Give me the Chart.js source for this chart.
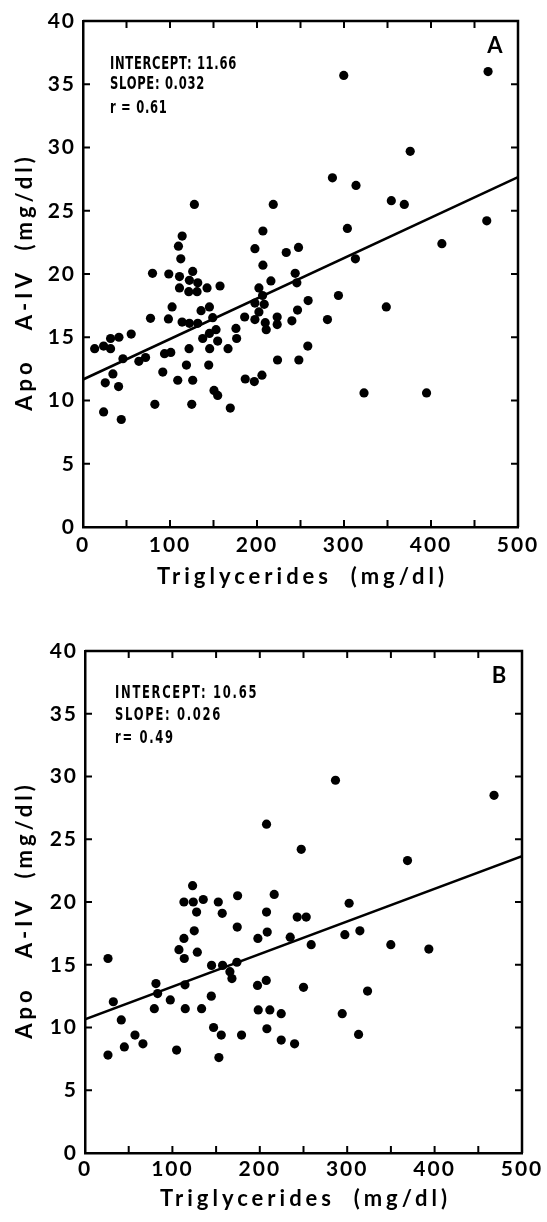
<!DOCTYPE html>
<html>
<head>
<meta charset="utf-8">
<script src="https://cdn.jsdelivr.net/npm/chart.js@4.4.1/dist/chart.umd.min.js"></script>
<style>
html,body{margin:0;padding:0;background:#fff;}
#wrap{position:relative;width:547px;height:1222px;overflow:hidden;background:#fff;}
canvas{position:absolute;left:0;}
#cA{top:0;}
#cB{top:610px;}
</style>
</head>
<body>
<div id="wrap">
<canvas id="cA" width="547" height="610"></canvas>
<canvas id="cB" width="547" height="612"></canvas>
</div>
<script>
// ---------- DATA ----------
const xTickLabels = ['0', '100', '200', '300', '400', '500'];
const yTickLabels = ['0', '5', '10', '15', '20', '25', '30', '35', '40'];
const xAxisTitle = 'Triglycerides  (mg/dl)';
const yAxisTitle = 'Apo   A-IV  (mg/dl)';

// Panel A
const triglyceridesA = [128, 218.7, 114, 109.7, 112.4, 206.8, 197.6, 233.6, 247.7, 206.8,
  79.9, 98.6, 110.9, 126.1, 122.3, 131.9, 110.9, 121.6, 131.1, 142.6,
  157.5, 216, 243.9, 245.8, 202.2, 206.4, 197.6, 208.3, 202.2, 197.6,
  185.8, 223.2, 223.2, 240.1, 246.6, 258.8, 281, 209.5, 210.6, 102.4,
  135.7, 145.3, 77.6, 98.2, 113.9, 122.3, 131.9, 149.1, 152.9, 145.3,
  137.6, 154.8, 175.8, 176.6, 166.7, 145.6, 121.9, 55.4, 41.3, 31.7,
  13.4, 23.7, 31.7, 45.9, 64.2, 71.9, 93.7, 100.9, 34.4, 25.6,
  40.9, 91.7, 118.9, 144.5, 108.9, 126.1, 150.6, 154.8, 82.6, 125,
  169.3, 23.7, 44, 186.5, 196.9, 205.7, 223.6, 248.1, 258.4, 286.7,
  299.7, 465.6, 376.1, 313.8, 354.4, 369.3, 303.9, 464.1, 412.5, 313.1,
  293.6, 348.6, 323, 394.9];
const apoA4A = [25.5, 25.5, 23.0, 22.2, 21.2, 23.4, 22.0, 21.7, 22.1, 20.7,
  20.05, 20.0, 19.8, 20.2, 19.5, 19.3, 18.9, 18.6, 18.6, 18.9,
  19.05, 19.45, 20.05, 19.3, 18.9, 18.3, 17.7, 17.6, 17.0, 16.4,
  16.6, 16.6, 16.0, 16.3, 17.15, 17.9, 16.4, 16.15, 15.6, 17.4,
  17.1, 17.4, 16.5, 16.45, 16.2, 16.1, 16.1, 16.55, 15.6, 15.3,
  14.9, 14.7, 15.7, 14.9, 14.1, 14.1, 14.1, 15.25, 15.0, 14.9,
  14.1, 14.3, 14.1, 13.3, 13.1, 13.4, 13.7, 13.8, 12.1, 11.4,
  11.1, 12.25, 12.8, 12.8, 11.6, 11.6, 10.8, 10.4, 9.7, 9.7,
  9.4, 9.1, 8.5, 11.7, 11.5, 12.0, 13.2, 13.2, 14.3, 27.6,
  35.7, 36.0, 29.7, 27.0, 25.8, 25.5, 23.6, 24.2, 22.4, 21.2,
  18.3, 17.4, 10.6, 10.6];
const fitA = [11.66, 0.032];      // intercept, slope
const statsA = ['INTERCEPT: 11.66', 'SLOPE: 0.032', 'r = 0.61'];

// Panel B
const triglyceridesB = [247.4, 123.1, 113.2, 123.9, 135.3, 152.5, 174.6, 216.5, 127.7, 157,
  207.7, 242.8, 253.1, 174.2, 125, 113.2, 197.8, 208.5, 234.8, 258.8,
  107.5, 128.5, 113.6, 26.3, 144.8, 157.4, 173.8, 165.8, 168.1, 81.2,
  114.4, 207.4, 197.4, 250, 32.4, 83.1, 97.6, 144.5, 79.3, 114.7,
  133.4, 198.2, 211.5, 224.5, 294.3, 41.5, 147.1, 155.9, 179.1, 208.1,
  224.5, 239.8, 57.2, 66.3, 45, 26.3, 104.8, 153.2, 297.3, 286.6,
  468, 207.7, 369, 302.2, 314.5, 349.9, 393.4, 323.3, 313];
const apoA4B = [24.2, 21.3, 20.0, 20.0, 20.2, 20.0, 20.5, 20.6, 19.2, 19.1,
  19.2, 18.8, 18.8, 18.0, 17.7, 17.1, 17.1, 17.6, 17.2, 16.6,
  16.2, 16.0, 15.5, 15.5, 14.95, 14.95, 15.2, 14.45, 13.9, 13.5,
  13.4, 13.75, 13.35, 13.2, 12.05, 12.7, 12.2, 12.5, 11.5, 11.5,
  11.5, 11.4, 11.4, 11.1, 11.1, 10.6, 10.0, 9.4, 9.4, 9.9,
  9.0, 8.7, 9.4, 8.7, 8.45, 7.8, 8.2, 7.6, 17.4, 29.7,
  28.5, 26.2, 23.3, 19.9, 17.7, 16.6, 16.25, 12.9, 9.45];
const fitB = [10.65, 0.026];
const statsB = ['INTERCEPT: 10.65', 'SLOPE: 0.026', 'r= 0.49'];

// ---------- RENDERING ----------
const X_MIN = 0, X_MAX = 500, Y_MIN = 0, Y_MAX = 40;
const tickFont = {family: 'Lato, "DejaVu Sans", sans-serif', size: 21, weight: 'bold'};

const decorPlugin = {
  id: 'decor',
  beforeDraw(chart) {
    chart.ctx.letterSpacing = '2px';
  },
  afterDraw(chart, args, o) {
    const {ctx, chartArea: a, scales: {x, y}} = chart;
    ctx.save();
    ctx.strokeStyle = '#000';
    ctx.fillStyle = '#000';
    // top + right frame
    ctx.lineWidth = 2.5;
    ctx.beginPath();
    ctx.moveTo(a.left, a.top);
    ctx.lineTo(a.right, a.top);
    ctx.lineTo(a.right, a.bottom);
    ctx.stroke();
    // inward ticks on all sides
    ctx.lineWidth = 2;
    const L = 7;
    ctx.beginPath();
    x.ticks.forEach(t => {
      if (t.value <= x.min || t.value >= x.max) return;
      const p = x.getPixelForValue(t.value);
      ctx.moveTo(p, a.bottom); ctx.lineTo(p, a.bottom - L);
      ctx.moveTo(p, a.top); ctx.lineTo(p, a.top + L);
    });
    y.ticks.forEach(t => {
      if (t.value <= y.min || t.value >= y.max) return;
      const p = y.getPixelForValue(t.value);
      ctx.moveTo(a.left, p); ctx.lineTo(a.left + L, p);
      ctx.moveTo(a.right, p); ctx.lineTo(a.right - L, p);
    });
    ctx.stroke();

    // axis titles
    ctx.font = 'bold 22px Lato, "DejaVu Sans", sans-serif';
    ctx.letterSpacing = '4px';
    ctx.textAlign = 'center';
    ctx.textBaseline = 'middle';
    ctx.fillText(o.xTitle, (a.left + a.right) / 2 + 2, a.bottom + o.xTitleGap);
    ctx.save();
    ctx.translate(o.yTitleX, (a.top + a.bottom) / 2 + o.yTitleShift);
    ctx.rotate(-Math.PI / 2);
    ctx.fillText(o.yTitle, 0, 0);
    ctx.restore();

    // panel letter
    ctx.letterSpacing = '0px';
    ctx.font = 'bold 22px Lato, "DejaVu Sans", sans-serif';
    ctx.fillText(o.panel, a.right - 23, a.top + o.panelDy);

    // statistics text (bold condensed)
    ctx.textAlign = 'left';
    ctx.font = 'bold 17px "DejaVu Sans", sans-serif';
    ctx.letterSpacing = o.statSpacing;
    o.stats.forEach((s, i) => {
      ctx.save();
      ctx.translate(a.left + o.statDx, a.top + o.statDy[i]);
      ctx.scale(0.68, 1);
      ctx.fillText(s, 0, 0);
      ctx.restore();
    });
    ctx.restore();
  }
};

function makeChart(id, xs, ys, fit, stats, panel, geom) {
  const pts = xs.map((v, i) => ({x: v, y: ys[i]}));
  const line = [{x: X_MIN, y: fit[0] + fit[1] * X_MIN}, {x: X_MAX, y: fit[0] + fit[1] * X_MAX}];
  return new Chart(document.getElementById(id), {
    type: 'scatter',
    data: {
      datasets: [
        {type: 'line', data: line, borderColor: '#000', borderWidth: 2.5, pointRadius: 0, fill: false, order: 1},
        {type: 'scatter', data: pts, backgroundColor: '#000', borderWidth: 0, pointRadius: 4.6, order: 0}
      ]
    },
    options: {
      responsive: false,
      devicePixelRatio: 1,
      animation: false,
      events: [],
      layout: {padding: {left: 0, right: geom.padRight, top: geom.padTop, bottom: 0}},
      plugins: {
        legend: {display: false},
        tooltip: {enabled: false},
        decor: {
          xTitle: xAxisTitle, yTitle: yAxisTitle, panel: panel, stats: stats,
          xTitleGap: geom.xTitleGap, yTitleX: 25, yTitleShift: 8,
          panelDy: geom.panelDy, statDx: geom.statDx, statDy: geom.statDy, statSpacing: geom.statSpacing
        }
      },
      scales: {
        x: {
          type: 'linear', min: X_MIN, max: X_MAX,
          afterFit: s => { s.height = geom.xHeight; },
          grid: {display: false, drawTicks: false},
          border: {display: true, color: '#000', width: 2.5},
          ticks: {
            stepSize: 50, autoSkip: false, maxRotation: 0, color: '#000', font: tickFont, padding: geom.xTickPad,
            callback: v => xTickLabels.includes(String(v)) ? String(v) : ''
          }
        },
        y: {
          type: 'linear', min: Y_MIN, max: Y_MAX,
          afterFit: s => { s.width = geom.yWidth; },
          grid: {display: false, drawTicks: false},
          border: {display: true, color: '#000', width: 2.5},
          ticks: {
            stepSize: 5, autoSkip: false, color: '#000', font: tickFont, padding: 7,
            callback: v => yTickLabels.includes(String(v)) ? String(v) : ''
          }
        }
      }
    },
    plugins: [decorPlugin]
  });
}

makeChart('cA', triglyceridesA, apoA4A, fitA, statsA, 'A', {
  padTop: 21, padRight: 29, xHeight: 83, yWidth: 83, xTickPad: 6, xTitleGap: 50,
  panelDy: 25, statDx: 27, statDy: [44, 64, 88], statSpacing: '1px'
});
makeChart('cB', triglyceridesB, apoA4B, fitB, statsB, 'B', {
  padTop: 41, padRight: 25, xHeight: 69, yWidth: 85, xTickPad: 4, xTitleGap: 46,
  panelDy: 25, statDx: 30, statDy: [43, 65, 88], statSpacing: '2.5px'
});
</script>
</body>
</html>
